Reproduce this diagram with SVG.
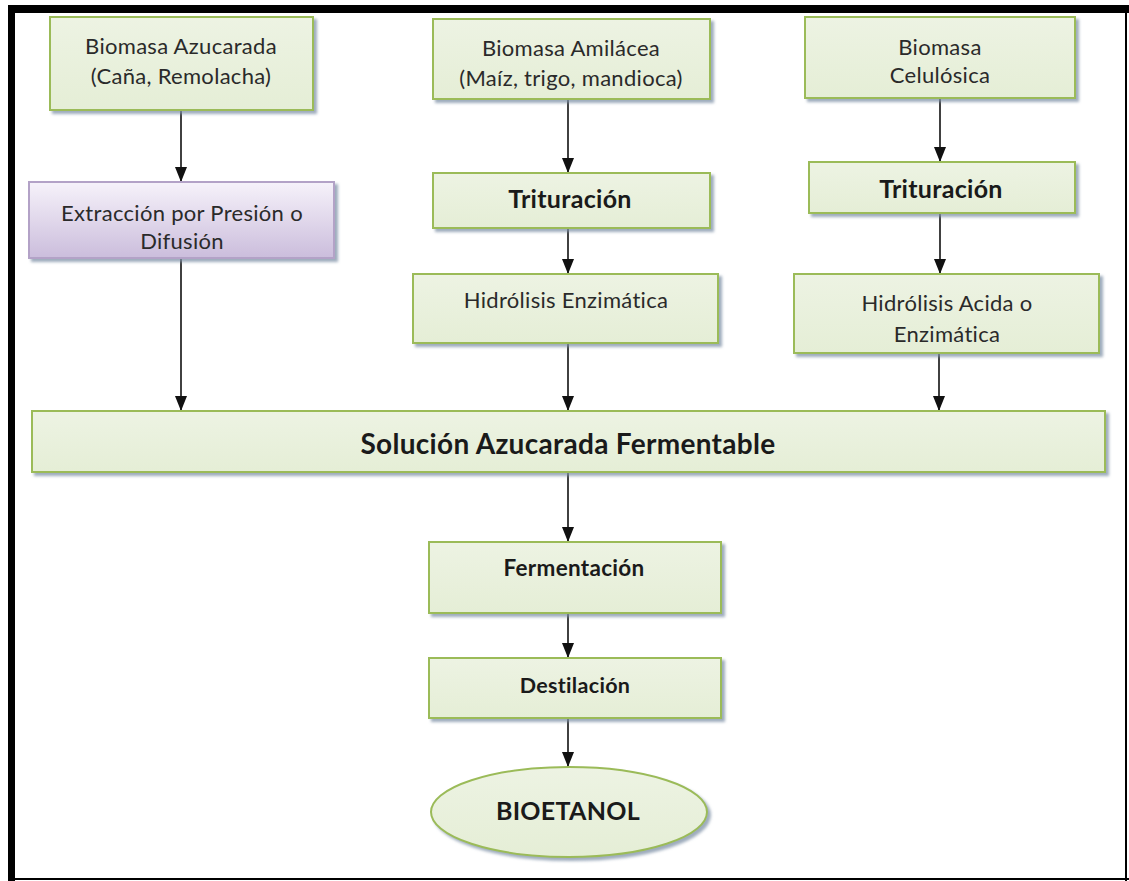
<svg xmlns="http://www.w3.org/2000/svg" width="1129" height="881" viewBox="0 0 1129 881">
  <style>
    .box { fill: url(#greenFill); stroke: #9bbb59; stroke-width: 2; filter: url(#shade); }
    .boxP { fill: url(#purpleFill); stroke: #b3a2c7; stroke-width: 2; filter: url(#shade); }
    .t { font-family: Lato, "Liberation Sans", sans-serif; font-size: 22px; letter-spacing: 0.3px; fill: #2a2a2a; text-anchor: middle; }
    .b { font-family: Lato, "Liberation Sans", sans-serif; font-size: 25px; letter-spacing: 0.3px; font-weight: bold; fill: #1a1a1a; text-anchor: middle; }
    .link { stroke: #111; stroke-width: 1.6; fill: none; marker-end: url(#arrow); }
  </style>
  <defs>
    <linearGradient id="greenFill" x1="0" y1="0" x2="0" y2="1">
      <stop offset="0" stop-color="#edf3e3"/>
      <stop offset="1" stop-color="#e5eed6"/>
    </linearGradient>
    <linearGradient id="purpleFill" x1="0" y1="0" x2="0" y2="1">
      <stop offset="0" stop-color="#f6f2fa"/>
      <stop offset="1" stop-color="#cbbddc"/>
    </linearGradient>
    <filter id="shade" x="-5%" y="-10%" width="115%" height="130%">
      <feDropShadow dx="3" dy="3" stdDeviation="1.5" flood-color="#7d90a6" flood-opacity="0.75"/>
    </filter>
    <marker id="arrow" markerWidth="12" markerHeight="16" refX="6" refY="15" orient="0" markerUnits="userSpaceOnUse" viewBox="0 0 12 16">
      <path d="M0,0 L12,0 L6,15 Z" fill="#111"/>
    </marker>
  </defs>

  <rect x="0" y="0" width="1129" height="881" fill="#ffffff"/>

  <!-- outer frame -->
  <g id="frame">
    <rect x="8" y="5" width="1121" height="8" fill="#000"/>
    <rect x="8" y="5" width="7" height="876" fill="#000"/>
    <rect x="1125" y="5" width="2" height="876" fill="#000"/>
    <rect x="8" y="878" width="1121" height="2" fill="#000"/>
  </g>

  <!-- flow arrows -->
  <g id="connectors">
    <line class="link" x1="181" y1="110" x2="181" y2="182"/>
    <line class="link" x1="568" y1="99" x2="568" y2="173"/>
    <line class="link" x1="568" y1="228" x2="568" y2="274"/>
    <line class="link" x1="940" y1="98" x2="940" y2="162"/>
    <line class="link" x1="940" y1="213" x2="940" y2="274"/>
    <line class="link" x1="181" y1="258" x2="181" y2="411"/>
    <line class="link" x1="568" y1="343" x2="568" y2="411"/>
    <line class="link" x1="939" y1="353" x2="939" y2="411"/>
    <line class="link" x1="568" y1="472" x2="568" y2="542"/>
    <line class="link" x1="568" y1="613" x2="568" y2="658"/>
    <line class="link" x1="568" y1="718" x2="568" y2="767"/>
  </g>

  <g id="biomasa-azucarada">
    <rect class="box" x="50" y="17" width="263" height="93"/>
    <text class="t" x="181" y="54">Biomasa Azucarada</text>
    <text class="t" x="181" y="84">(Caña, Remolacha)</text>
  </g>

  <g id="extraccion">
    <rect class="boxP" x="29" y="182" width="305" height="76"/>
    <text class="t" x="182" y="221">Extracción por Presión o</text>
    <text class="t" x="182" y="249">Difusión</text>
  </g>

  <g id="biomasa-amilacea">
    <rect class="box" x="433" y="19" width="277" height="80"/>
    <text class="t" x="571" y="56">Biomasa Amilácea</text>
    <text class="t" x="571" y="86">(Maíz, trigo, mandioca)</text>
  </g>

  <g id="trituracion-amilacea">
    <rect class="box" x="433" y="173" width="277" height="55"/>
    <text class="b" x="570" y="208">Trituración</text>
  </g>

  <g id="hidrolisis-enzimatica">
    <rect class="box" x="413" y="274" width="305" height="69"/>
    <text class="t" x="566" y="308">Hidrólisis Enzimática</text>
  </g>

  <g id="biomasa-celulosica">
    <rect class="box" x="805" y="17" width="270" height="81"/>
    <text class="t" x="940" y="55">Biomasa</text>
    <text class="t" x="940" y="83">Celulósica</text>
  </g>

  <g id="trituracion-celulosica">
    <rect class="box" x="809" y="162" width="266" height="51"/>
    <text class="b" x="941" y="198">Trituración</text>
  </g>

  <g id="hidrolisis-acida">
    <rect class="box" x="794" y="274" width="305" height="79"/>
    <text class="t" x="947" y="311">Hidrólisis Acida o</text>
    <text class="t" x="947" y="342">Enzimática</text>
  </g>

  <g id="solucion-azucarada">
    <rect class="box" x="32" y="411" width="1073" height="61"/>
    <text class="b" x="568" y="454" style="font-size:28px">Solución Azucarada Fermentable</text>
  </g>

  <g id="fermentacion">
    <rect class="box" x="429" y="542" width="292" height="71"/>
    <text class="b" x="574" y="576" style="font-size:22.5px">Fermentación</text>
  </g>

  <g id="destilacion">
    <rect class="box" x="429" y="658" width="292" height="60"/>
    <text class="b" x="575" y="693" style="font-size:21.5px">Destilación</text>
  </g>

  <g id="bioetanol">
    <ellipse class="box" cx="569" cy="812" rx="138" ry="45"/>
    <text class="b" x="568" y="820" style="font-size:25px">BIOETANOL</text>
  </g>
</svg>
